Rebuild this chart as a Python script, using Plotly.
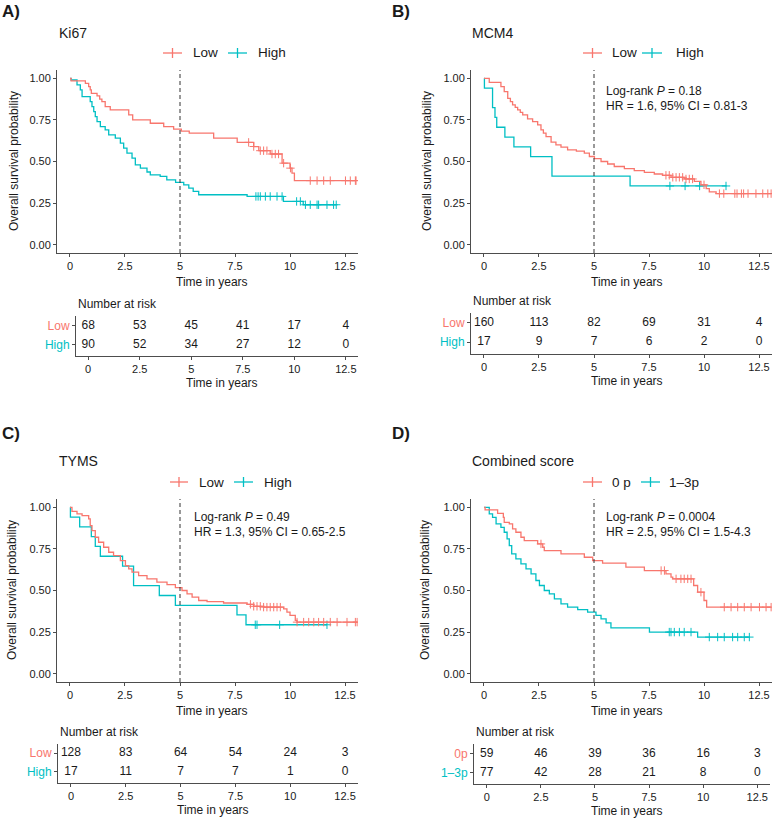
import plotly.graph_objects as go

# ---------------- data ----------------
RISK_TIMES = [0, 2.5, 5, 7.5, 10, 12.5]
X_TICKS = [0, 2.5, 5, 7.5, 10, 12.5]
X_TICKTEXT = ["0", "2.5", "5", "7.5", "10", "12.5"]

# Panel A: Ki67
A_low_t = [0, 0.05, 0.7, 0.85, 0.92, 0.97, 1.23, 1.35, 1.45, 1.6, 1.83, 2.67, 2.85, 3.65, 4.26, 4.71,
           5.06, 5.42, 6.53, 7.6, 8.35, 8.58, 9.1, 9.64, 10.0, 10.09, 10.2, 13.0]
A_low_s = [1.0, 0.985, 0.97, 0.95, 0.93, 0.91, 0.894, 0.875, 0.86, 0.83, 0.81, 0.78, 0.75, 0.73, 0.71, 0.695,
           0.683, 0.67, 0.64, 0.615, 0.59, 0.565, 0.545, 0.49, 0.46, 0.43, 0.385, 0.385]
A_low_cens = [8.12, 8.35, 8.65, 8.8, 8.95, 9.18, 9.33, 9.48, 9.71, 10.02, 10.92, 11.23, 11.53, 11.83,
              12.52, 12.74, 12.97, 13.0]
A_high_t = [0, 0.05, 0.32, 0.47, 0.55, 0.92, 1.0, 1.08, 1.15, 1.23, 1.38, 1.6, 1.76, 2.06, 2.29, 2.44,
            2.59, 2.82, 2.97, 3.2, 3.5, 3.65, 4.1, 4.4, 4.8, 5.17, 5.4, 5.6, 5.85, 8.05, 9.7, 10.6, 12.1]
A_high_s = [1.0, 0.99, 0.96, 0.93, 0.89, 0.86, 0.83, 0.80, 0.77, 0.74, 0.71, 0.69, 0.66, 0.64, 0.61, 0.58,
            0.55, 0.52, 0.48, 0.46, 0.437, 0.42, 0.41, 0.39, 0.375, 0.36, 0.34, 0.32, 0.30, 0.29, 0.26, 0.24, 0.24]
A_high_cens = [8.45, 8.55, 8.65, 8.88, 9.1, 9.41, 9.64, 10.3, 10.47, 10.7, 10.92, 11.23, 11.3, 11.68, 11.98, 12.1]

# Panel B: MCM4
B_low_t = [0, 0.24, 0.77, 0.92, 1.08, 1.2, 1.3, 1.42, 1.53, 1.65, 1.76, 1.98, 2.21, 2.44, 2.59, 2.7, 2.82,
           3.05, 3.27, 3.5, 3.8, 4.2, 4.56, 4.79, 5.02, 5.32, 5.62, 5.92, 6.38, 6.83, 7.29, 7.74, 8.12, 8.5,
           9.1, 9.56, 9.86, 10.1, 10.24, 10.55, 13.05]
B_low_s = [1.0, 0.976, 0.95, 0.92, 0.88, 0.86, 0.84, 0.825, 0.81, 0.795, 0.78, 0.756, 0.74, 0.72, 0.69, 0.67,
           0.65, 0.617, 0.60, 0.587, 0.57, 0.562, 0.55, 0.53, 0.517, 0.50, 0.485, 0.47, 0.457, 0.445, 0.435,
           0.425, 0.417, 0.405, 0.395, 0.38, 0.36, 0.337, 0.317, 0.307, 0.307]
B_low_cens = [8.27, 8.42, 8.58, 8.73, 8.88, 9.03, 9.18, 9.33, 9.48, 10.0, 10.7, 10.9, 11.4, 11.5, 11.7,
              11.8, 12.0, 12.36, 12.67, 12.9, 13.05]
B_high_t = [0, 0.02, 0.39, 0.5, 0.58, 0.95, 1.36, 2.12, 3.09, 6.64, 11.03]
B_high_s = [1.0, 0.941, 0.824, 0.765, 0.706, 0.647, 0.588, 0.529, 0.412, 0.353, 0.353]
B_high_cens = [8.45, 9.14, 9.8, 11.0]

# Panel C: TYMS
C_low_t = [0, 0.09, 0.32, 0.55, 0.85, 0.92, 1.0, 1.15, 1.3, 1.53, 1.76, 1.98, 2.29, 2.52, 2.67, 2.82, 3.12,
           3.5, 3.95, 4.41, 4.79, 5.09, 5.32, 5.55, 5.85, 6.23, 6.98, 8.05, 8.35, 8.8, 9.71, 9.86, 10.0,
           10.24, 10.32, 13.05]
C_low_s = [1.0, 0.976, 0.96, 0.95, 0.93, 0.89, 0.86, 0.82, 0.79, 0.76, 0.73, 0.71, 0.68, 0.65, 0.63, 0.61,
           0.59, 0.57, 0.55, 0.535, 0.517, 0.50, 0.48, 0.46, 0.44, 0.433, 0.425, 0.417, 0.405, 0.40, 0.39,
           0.37, 0.35, 0.32, 0.31, 0.31]
C_low_cens = [8.2, 8.35, 8.5, 8.65, 8.8, 8.95, 9.1, 9.26, 9.41, 9.56, 10.32, 10.62, 10.85, 11.08, 11.3,
              11.53, 11.83, 12.14, 12.59, 12.97, 13.05]
C_high_t = [0, 0.02, 0.44, 0.97, 1.15, 1.38, 2.39, 2.89, 4.06, 4.79, 7.59, 8.0, 11.68]
C_high_s = [1.0, 0.941, 0.882, 0.824, 0.765, 0.706, 0.647, 0.529, 0.47, 0.41, 0.353, 0.294, 0.294]
C_high_cens = [8.42, 8.5, 9.53, 11.68]

# Panel D: Combined score
D_low_t = [0, 0.05, 0.62, 0.88, 0.92, 1.15, 1.3, 1.45, 1.68, 1.83, 2.44, 2.67, 2.74, 3.5, 4.56, 4.94, 5.39,
           6.45, 7.29, 8.27, 8.5, 8.58, 9.53, 9.71, 10.0, 10.12, 13.05]
D_low_s = [1.0, 0.985, 0.964, 0.94, 0.91, 0.90, 0.87, 0.85, 0.82, 0.80, 0.78, 0.76, 0.74, 0.72, 0.70, 0.68,
           0.665, 0.64, 0.62, 0.60, 0.58, 0.57, 0.53, 0.49, 0.44, 0.40, 0.40]
D_low_cens = [2.59, 8.05, 8.2, 8.73, 8.95, 9.1, 9.26, 9.41, 9.86, 10.92, 11.23, 11.53, 11.83, 12.14, 12.52,
              12.82, 13.05]
D_high_t = [0, 0.24, 0.39, 0.55, 0.77, 0.92, 1.05, 1.15, 1.26, 1.45, 1.68, 1.91, 2.14, 2.36, 2.52, 2.74,
            2.97, 3.2, 3.5, 3.8, 4.26, 4.71, 5.09, 5.32, 5.55, 5.77, 7.52, 9.71, 12.06]
D_high_s = [1.0, 0.96, 0.94, 0.90, 0.88, 0.85, 0.81, 0.77, 0.72, 0.69, 0.66, 0.63, 0.60, 0.56, 0.53, 0.50,
            0.48, 0.45, 0.42, 0.40, 0.385, 0.37, 0.35, 0.33, 0.305, 0.275, 0.25, 0.22, 0.22]
D_high_cens = [8.42, 8.5, 8.65, 8.88, 9.1, 9.41, 10.24, 10.62, 10.92, 11.3, 11.53, 11.83, 12.06]

# Number at risk
A_risk_low = [68, 53, 45, 41, 17, 4]
A_risk_high = [90, 52, 34, 27, 12, 0]
B_risk_low = [160, 113, 82, 69, 31, 4]
B_risk_high = [17, 9, 7, 6, 2, 0]
C_risk_low = [128, 83, 64, 54, 24, 3]
C_risk_high = [17, 11, 7, 7, 1, 0]
D_risk_low = [59, 46, 39, 36, 16, 3]
D_risk_high = [77, 42, 28, 21, 8, 0]

TITLES = ["Ki67", "MCM4", "TYMS", "Combined score"]
PANEL_LABELS = ["A)", "B)", "C)", "D)"]
GROUPS = [("Low", "High"), ("Low", "High"), ("Low", "High"), ("0 p", "1\u20133p")]
TABLE_GROUPS = [("Low", "High"), ("Low", "High"), ("Low", "High"), ("0p", "1\u20133p")]
STATS = [None,
         ("Log-rank <i>P</i> = 0.18", "HR = 1.6, 95% CI = 0.81-3"),
         ("Log-rank <i>P</i> = 0.49", "HR = 1.3, 95% CI = 0.65-2.5"),
         ("Log-rank <i>P</i> = 0.0004", "HR = 2.5, 95% CI = 1.5-4.3")]

# ---------------- styling / layout ----------------
W, H = 775, 819
RED = "#F8766D"
TEAL = "#00BFC4"
TXT = "#1a1a1a"
AXC = "#4d4d4d"
FONT = "Liberation Sans, Arial, Helvetica, sans-serif"
XR = [-0.59, 13.09]
TR = [0.4, 2.5]


def px(x):
    return x / W


def py(y):
    return 1 - y / H


# pixel boxes: (left, right, top, bottom)
KM_BOX = [(57, 358, 70, 253), (471, 772, 70, 253), (57, 358, 499, 682), (471, 772, 499, 682)]
TB_BOX = [(76, 358, 316, 356), (471, 772, 313, 354), (58, 358, 744, 783), (474, 770, 744, 784)]

panels = [
    (A_low_t, A_low_s, A_low_cens, A_high_t, A_high_s, A_high_cens, A_risk_low, A_risk_high),
    (B_low_t, B_low_s, B_low_cens, B_high_t, B_high_s, B_high_cens, B_risk_low, B_risk_high),
    (C_low_t, C_low_s, C_low_cens, C_high_t, C_high_s, C_high_cens, C_risk_low, C_risk_high),
    (D_low_t, D_low_s, D_low_cens, D_high_t, D_high_s, D_high_cens, D_risk_low, D_risk_high),
]


def step_at(ts, ss, c):
    v = ss[0]
    for t, s in zip(ts, ss):
        if t <= c:
            v = s
    return v


fig = go.Figure()
annotations = []
shapes = []

axis_common = dict(showgrid=False, zeroline=False, showline=True, linecolor=AXC, linewidth=1,
                   ticks="outside", ticklen=3, tickcolor=AXC, tickwidth=1,
                   tickfont=dict(family=FONT, size=11, color=TXT))

layout_axes = {}

for i, (lt, ls, lc, ht, hs, hc, rl, rh) in enumerate(panels):
    k = i + 1
    kt = i + 5
    xa = "x" if k == 1 else f"x{k}"
    ya = "y" if k == 1 else f"y{k}"
    xt, yt = f"x{kt}", f"y{kt}"
    l, r, t, b = KM_BOX[i]
    layout_axes["xaxis" if k == 1 else f"xaxis{k}"] = dict(
        axis_common, domain=[px(l), px(r)], range=XR, tickvals=X_TICKS, ticktext=X_TICKTEXT,
        anchor=ya)
    layout_axes["yaxis" if k == 1 else f"yaxis{k}"] = dict(
        axis_common, domain=[py(b), py(t)], range=[-0.05, 1.05],
        tickvals=[0, 0.25, 0.5, 0.75, 1.0], ticktext=["0.00", "0.25", "0.50", "0.75", "1.00"],
        anchor=xa)
    tl, tr, tt, tb = TB_BOX[i]
    layout_axes[f"xaxis{kt}"] = dict(
        axis_common, domain=[px(tl), px(tr)], range=XR, tickvals=X_TICKS, ticktext=X_TICKTEXT,
        anchor=yt)
    g1, g2 = TABLE_GROUPS[i]
    layout_axes[f"yaxis{kt}"] = dict(
        axis_common, domain=[py(tb), py(tt)], range=TR, tickvals=[2, 1],
        ticktext=[f'<span style="color:{RED}">{g1}</span>', f'<span style="color:{TEAL}">{g2}</span>'],
        tickfont=dict(family=FONT, size=12, color=TXT), anchor=xt)

    # KM curves
    for ts, ss, cs, col in ((ht, hs, hc, TEAL), (lt, ls, lc, RED)):
        fig.add_trace(go.Scatter(x=ts, y=ss, mode="lines", line=dict(color=col, width=1.3, shape="hv"),
                                 xaxis=xa, yaxis=ya, hoverinfo="skip"))
        fig.add_trace(go.Scatter(x=cs, y=[step_at(ts, ss, c) for c in cs], mode="markers",
                                 marker=dict(symbol="cross-thin", size=6, line=dict(color=col, width=1)),
                                 xaxis=xa, yaxis=ya, hoverinfo="skip"))
    # 5-year dashed line
    shapes.append(dict(type="line", xref=xa, yref=f"{ya} domain", x0=5, x1=5, y0=0, y1=1,
                       line=dict(color="#333333", width=1, dash="4px,3px")))

    # risk table numbers
    fig.add_trace(go.Scatter(x=RISK_TIMES, y=[2] * len(rl), text=[str(v) for v in rl], mode="text",
                             textfont=dict(family=FONT, size=12, color=TXT), xaxis=xt, yaxis=yt,
                             hoverinfo="skip"))
    fig.add_trace(go.Scatter(x=RISK_TIMES, y=[1] * len(rh), text=[str(v) for v in rh], mode="text",
                             textfont=dict(family=FONT, size=12, color=TXT), xaxis=xt, yaxis=yt,
                             hoverinfo="skip"))


def ann(x, y, text, size=12, anchor="left", color=TXT, angle=0, yanchor="middle"):
    annotations.append(dict(x=px(x), y=py(y), xref="paper", yref="paper", text=text, showarrow=False,
                            xanchor=anchor, yanchor=yanchor, textangle=angle,
                            font=dict(family=FONT, size=size, color=color)))


# panel labels, titles
LAB_POS = [(0, 12), (390, 12), (0, 433), (390, 433)]
TITLE_POS = [(57, 33), (470, 33), (57, 461), (470, 461)]
for i in range(4):
    ann(LAB_POS[i][0], LAB_POS[i][1], f"<b>{PANEL_LABELS[i]}</b>", size=17)
    ann(TITLE_POS[i][0], TITLE_POS[i][1], TITLES[i], size=14)

# legends (drawn as shapes + text)
LEG = [
    (53, (163, 182, 191), (228, 247, 256)),
    (53, (583, 602, 610), (642, 662, 674)),
    (482, (170, 188, 197), (234, 253, 262)),
    (482, (583, 602, 610), (641, 660, 667)),
]
for i, (ly, it1, it2) in enumerate(LEG):
    for (x0, x1, xt_), col, lab in ((it1, RED, GROUPS[i][0]), (it2, TEAL, GROUPS[i][1])):
        shapes.append(dict(type="line", xref="paper", yref="paper", x0=px(x0), x1=px(x1), y0=py(ly),
                           y1=py(ly), line=dict(color=col, width=1.3)))
        xc = (x0 + x1) / 2
        shapes.append(dict(type="line", xref="paper", yref="paper", x0=px(xc), x1=px(xc), y0=py(ly - 5),
                           y1=py(ly + 5), line=dict(color=col, width=1.3)))
        ann(xt_, ly, lab, size=13.5)

# stats text
STAT_POS = [None, (604, 91, 106), (192, 517, 532), (604, 517, 532)]
for i in range(1, 4):
    x, y1, y2 = STAT_POS[i]
    ann(x, y1, STATS[i][0], size=12)
    ann(x, y2, STATS[i][1], size=12)

# axis titles
YT_POS = [(14, 161), (427, 161), (12, 590), (425, 590)]
for i in range(4):
    ann(YT_POS[i][0], YT_POS[i][1], "Overall survival probability", size=12, anchor="center", angle=-90)
    l, r, t, b = KM_BOX[i]
    ann((l + r) / 2 + 5, b + 29, "Time in years", size=12, anchor="center")
    tl, tr, tt, tb = TB_BOX[i]
    ann((tl + tr) / 2 + 5, tb + 27, "Time in years", size=12, anchor="center")
    ann(tl, tt - 12, "Number at risk", size=12)

fig.update_layout(width=W, height=H, margin=dict(l=0, r=0, t=0, b=0), plot_bgcolor="white",
                  paper_bgcolor="white", showlegend=False, annotations=annotations, shapes=shapes,
                  font=dict(family=FONT, color=TXT), **layout_axes)

fig.write_html("out.html")
